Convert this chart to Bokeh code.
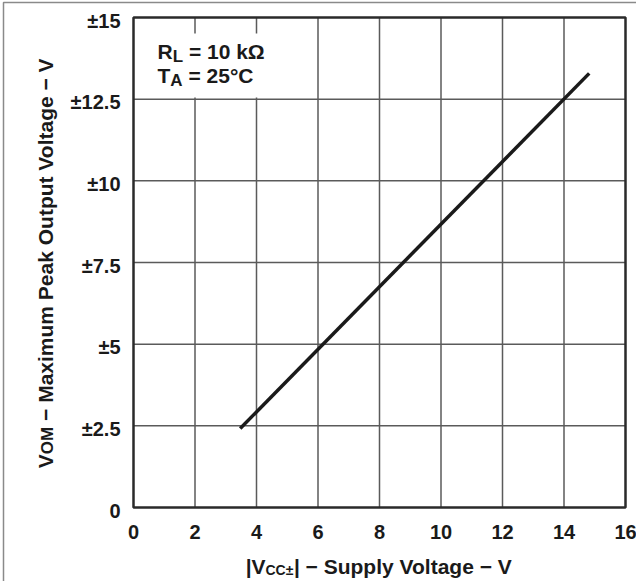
import math
from bokeh.plotting import figure
from bokeh.models import Label, Range1d
from bokeh.embed import file_html
from bokeh.resources import INLINE

# ---- data ----
supply_v = [3.47, 14.82]          # |Vcc±| (V)
vom_v = [2.42, 13.29]             # VOM (±V)
x_ticks = [0, 2, 4, 6, 8, 10, 12, 14, 16]
x_tick_labels = ["0", "2", "4", "6", "8", "10", "12", "14", "16"]
y_ticks = [0, 2.5, 5, 7.5, 10, 12.5, 15]
y_tick_labels = ["0", "±2.5", "±5", "±7.5", "±10", "±12.5", "±15"]

# ---- layout (pixels) ----
FONT = "Liberation Sans"
TXT = "#1a1a1a"
W, H = 636, 581
FL, FR, FT, FB = 133.0, 625.0, 17.0, 507.0      # plot-area box on the canvas
XPX = (FR - FL) / (x_ticks[-1] - x_ticks[0])
YPX = (FB - FT) / (y_ticks[-1] - y_ticks[0])
BFIX = 0.3                                       # baseline correction (fraction of font size)

def dx(px):
    return x_ticks[0] + (px - FL) / XPX
def dy(py):
    return y_ticks[0] + (FB - py) / YPX

p = figure(width=W, height=H,
           x_range=Range1d(dx(0), dx(W)), y_range=Range1d(dy(H), dy(0)),
           x_axis_type=None, y_axis_type=None,
           output_backend="svg", toolbar_location=None,
           min_border_left=0, min_border_right=0, min_border_top=0, min_border_bottom=0)
p.background_fill_color = "white"
p.border_fill_color = "white"
p.outline_line_color = None

# outer figure border (thin grey line at left / top of the page)
p.quad(left=[dx(3)], right=[dx(W + 20)], top=[dy(2)], bottom=[dy(H + 20)],
       fill_color=None, line_color="#8a8a8a", line_width=1.5)

# grid
p.segment(x0=x_ticks[1:-1], y0=[y_ticks[0]] * (len(x_ticks) - 2),
          x1=x_ticks[1:-1], y1=[y_ticks[-1]] * (len(x_ticks) - 2),
          line_color="#5a5a5a", line_width=1.5)
p.segment(x0=[x_ticks[0]] * (len(y_ticks) - 2), y0=y_ticks[1:-1],
          x1=[x_ticks[-1]] * (len(y_ticks) - 2), y1=y_ticks[1:-1],
          line_color="#5a5a5a", line_width=1.5)

# white backing box behind the condition text
p.quad(left=[dx(FL + 1)], right=[dx(290)], top=[dy(33)], bottom=[dy(97)],
       fill_color="white", line_color=None)

# plot frame
p.quad(left=[x_ticks[0]], right=[x_ticks[-1]], bottom=[y_ticks[0]], top=[y_ticks[-1]],
       fill_color=None, line_color="#2a2a2a", line_width=2.5)

# data
p.line(supply_v, vom_v, line_color="#1a1a1a", line_width=3.5)

# tick labels
TS = 20
p.text(x=x_ticks, y=[dy(537.5 - BFIX * TS)] * len(x_ticks), text=x_tick_labels,
       text_font={"value": FONT}, text_font_style="bold", text_font_size=f"{TS}px",
       text_color=TXT, text_align="center", text_baseline="alphabetic")
p.text(x=[dx(120)] * len(y_ticks), y=[t - (9 - BFIX * TS) / YPX for t in y_ticks], text=y_tick_labels,
       text_font={"value": FONT}, text_font_style="bold", text_font_size=f"{TS}px",
       text_color=TXT, text_align="right", text_baseline="alphabetic")

# text width estimation (Arial / Liberation Sans Bold metrics)
WID = {' ': 278, '|': 280, 'V': 667, 'C': 722, '±': 584, '−': 584, '=': 584, '°': 400,
       'Ω': 768, 'a': 556, 'e': 556, 'g': 611, 'i': 278, 'k': 556, 'l': 278, 'm': 889,
       'o': 611, 'p': 611, 't': 333, 'u': 611, 'x': 556, 'y': 556, 'S': 667, 'O': 778,
       'M': 833, 'P': 667, 'R': 722, 'L': 611, 'T': 611, 'A': 722, '.': 278}
def tw(s, size):
    return sum(WID.get(c, 556) for c in s) * size / 1000.0

def run(parts, start, base, rotated=False):
    """Draw text pieces one after another along a line (horizontal or rotated 90°)."""
    pos = start
    for text, size, off in parts:
        lead = len(text) - len(text.lstrip(" "))
        t = text.lstrip(" ")
        pos += tw(" " * lead, size) * (-1 if rotated else 1)
        b = base + off - BFIX * size
        if rotated:
            lab = Label(x=dx(b), y=dy(pos), angle=math.pi / 2, text=t)
        else:
            lab = Label(x=dx(pos), y=dy(b), text=t)
        lab.text_font = FONT
        lab.text_font_style = "bold"
        lab.text_font_size = f"{size}px"
        lab.text_color = TXT
        lab.text_align = "left"
        lab.text_baseline = "alphabetic"
        p.add_layout(lab)
        pos += tw(t, size) * (-1 if rotated else 1)

# conditions
run([("R", 21, 0), ("L", 17, 4), (" = 10 kΩ", 21, 0)], 157, 57)
run([("T", 21, 0), ("A", 17, 4), (" = 25°C", 21, 0)], 157, 81.5)

# x axis title
xparts = [("|V", 21, 0), ("CC±", 14, 2), ("| − Supply Voltage − V", 21, 0)]
xtot = sum(tw(t, s) for t, s, _ in xparts)
run(xparts, (FL + FR) / 2 - xtot / 2, 572)

# y axis title (rotated)
yparts = [("V", 21, 0), ("OM", 17, 1.5), (" − Maximum Peak Output Voltage − V", 21, 0)]
ytot = sum(tw(t, s) for t, s, _ in yparts)
run(yparts, (FT + FB) / 2 + ytot / 2, 51, rotated=True)

open("out.html", "w").write(file_html(p, INLINE))
